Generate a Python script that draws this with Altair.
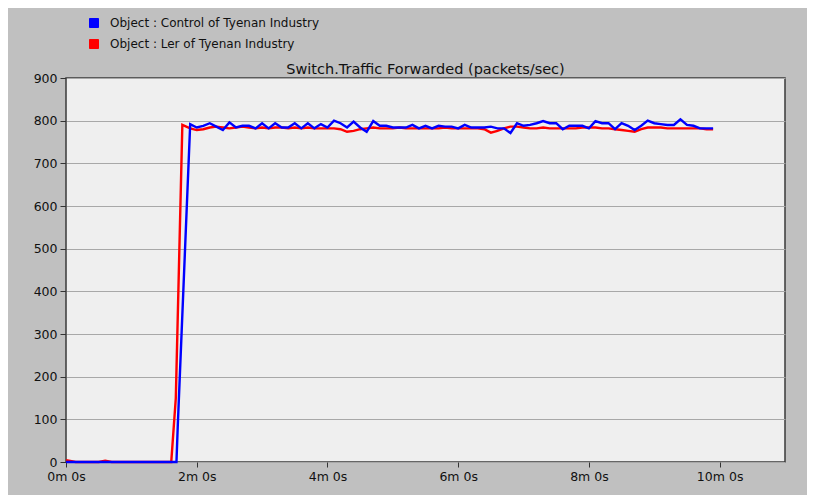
import altair as alt
import pandas as pd

BLUE_NAME = "Object : Control of Tyenan Industry"
RED_NAME = "Object : Ler of Tyenan Industry"
TITLE = "Switch.Traffic Forwarded (packets/sec)"

# time in minutes
blue_head_t = [0.0, 1.69, 1.71]
blue_head_v = [0, 0, 85]
blue_tail_v = [792, 784, 788, 794, 786, 778, 796, 784, 788, 788,
               782, 794, 782, 794, 784, 784, 794, 782, 794, 782,
               792, 784, 800, 794, 784, 798, 784, 774, 799, 788,
               788, 784, 784, 784, 790, 782, 788, 782, 788, 786,
               786, 782, 790, 784, 784, 784, 786, 782, 782, 771,
               794, 788, 790, 794, 799, 794, 794, 780, 788, 788,
               788, 782, 799, 794, 794, 780, 794, 788, 778, 788,
               800, 794, 792, 790, 790, 803, 790, 788, 782, 782,
               782]

red_head_t = [0.0, 0.15, 0.5, 0.6, 0.7, 1.61, 1.68, 1.78]
red_head_v = [4, 0, 0, 3, 0, 0, 150, 790]
red_tail_v = [782, 778, 780, 784, 786, 784, 782, 784, 786, 784,
              782, 784, 782, 784, 784, 782, 784, 782, 784, 782,
              782, 782, 782, 780, 774, 776, 780, 782, 784, 782,
              782, 782, 784, 782, 782, 782, 782, 782, 782, 784,
              782, 782, 782, 782, 782, 780, 772, 776, 782, 786,
              786, 784, 782, 782, 784, 782, 782, 782, 782, 782,
              784, 784, 784, 782, 782, 780, 778, 776, 774, 780,
              784, 784, 784, 782, 782, 782, 782, 782, 782, 780,
              780]

tail_t = [round(1.9 + 0.1 * k, 2) for k in range(len(blue_tail_v))]

blue_df = pd.DataFrame({
    "t": blue_head_t + tail_t,
    "v": blue_head_v + blue_tail_v,
    "series": BLUE_NAME,
})
red_df = pd.DataFrame({
    "t": red_head_t + tail_t[:len(red_tail_v)],
    "v": red_head_v + red_tail_v,
    "series": RED_NAME,
})
key_df = pd.concat([blue_df.head(1), red_df.head(1)])
title_df = pd.DataFrame({"label": [TITLE]})

x_ticks = [0, 2, 4, 6, 8, 10]
y_ticks = [0, 100, 200, 300, 400, 500, 600, 700, 800, 900]

LABEL_FONT = "DejaVu Sans"

color = alt.Color(
    "series:N",
    scale=alt.Scale(domain=[BLUE_NAME, RED_NAME], range=["#0000ff", "#ff0000"]),
    legend=alt.Legend(
        title=None, orient="none", legendX=22, legendY=-61,
        symbolType="square", symbolSize=81, symbolStrokeWidth=1,
        symbolStrokeColor="#333333", symbolOpacity=1,
        labelFont=LABEL_FONT, labelFontSize=12, labelLimit=0,
        labelColor="#111111", rowPadding=7, labelOffset=10, padding=0,
    ),
)

x = alt.X("t:Q", scale=alt.Scale(domain=[0, 11], nice=False),
          axis=alt.Axis(values=x_ticks, labelExpr="datum.value + 'm 0s'", grid=False,
                        title=None, tickColor="#333333", tickSize=5, domain=False,
                        labelFlush=False,
                        labelFont=LABEL_FONT, labelFontSize=12.5, labelColor="#111111",
                        labelPadding=3))
y = alt.Y("v:Q", scale=alt.Scale(domain=[0, 900], nice=False),
          axis=alt.Axis(values=y_ticks, grid=True, gridColor="#a8a8a8", gridWidth=1,
                        title=None, tickColor="#333333", tickSize=6, domain=False,
                        labelFlush=False,
                        labelFont=LABEL_FONT, labelFontSize=12.5, labelColor="#111111",
                        labelPadding=3))

key_points = alt.Chart(key_df).mark_point(
    shape="square", filled=True, opacity=0, stroke="#333333", strokeWidth=1
).encode(x=x, y=y, color=color)
red_line = alt.Chart(red_df).mark_line(strokeWidth=2.4).encode(x=x, y=y, color=color)
blue_line = alt.Chart(blue_df).mark_line(strokeWidth=2.4).encode(x=x, y=y, color=color)
title_text = alt.Chart(title_df).mark_text(
    font=LABEL_FONT, fontSize=14.5, color="#111111", align="center", baseline="alphabetic"
).encode(text="label:N", x=alt.value(359.5), y=alt.value(-4))

chart = alt.layer(key_points, red_line, blue_line, title_text).properties(
    width=719, height=384,
    autosize=alt.AutoSizeParams(type="none"),
    padding={"left": 58, "top": 70, "right": 22, "bottom": 33},
    background="#c0c0c0",
).configure_view(fill="#efefef", stroke="#3a3a3a", strokeWidth=1.5)

chart.save("out.html", embed_options={"renderer": "svg", "actions": False})
